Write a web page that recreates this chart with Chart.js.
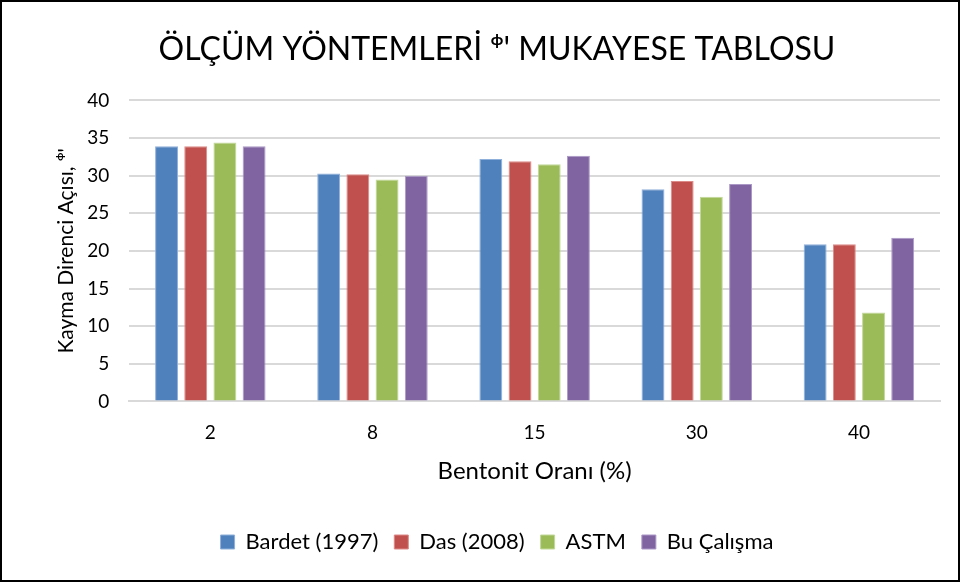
<!DOCTYPE html>
<html>
<head>
<meta charset="utf-8">
<script src="https://cdn.jsdelivr.net/npm/chart.js@4.4.0/dist/chart.umd.min.js"></script>
<style>
  html, body { margin: 0; padding: 0; background: #fff; }
  #wrap { position: relative; width: 960px; height: 582px; box-sizing: border-box; border: 2px solid #000; }
  #chart { display: block; }
</style>
</head>
<body>
<div id="wrap"><canvas id="chart" width="956" height="578"></canvas></div>
<script>
const categories = ["2", "8", "15", "30", "40"];
const seriesNames = ["Bardet (1997)", "Das (2008)", "ASTM", "Bu Çalışma"];
const bardet = [33.9, 30.3, 32.2, 28.2, 20.9];
const das = [33.9, 30.2, 31.9, 29.3, 20.9];
const astm = [34.4, 29.5, 31.5, 27.2, 11.8];
const buCalisma = [33.9, 30.0, 32.65, 28.9, 21.75];
const yTicks = [0, 5, 10, 15, 20, 25, 30, 35, 40];

const fills = ["#4f81bd", "#c0504d", "#9bbb59", "#8064a2"];
const edges = ["#8fb0da", "#dc8a88", "#c2d89a", "#ab98c6"];
const font = "Lato, 'Open Sans', sans-serif";

const datasets = [bardet, das, astm, buCalisma].map((vals, i) => ({
  label: seriesNames[i],
  data: vals,
  backgroundColor: fills[i],
  borderColor: edges[i],
  borderWidth: 1,
  categoryPercentage: 0.72,
  barPercentage: 0.785,
}));

new Chart(document.getElementById("chart").getContext("2d"), {
  type: "bar",
  data: { labels: categories, datasets },
  options: {
    responsive: false,
    animation: false,
    layout: { padding: { left: 52, right: 18, top: 8, bottom: 17 } },
    plugins: {
      title: {
        display: true,
        text: "ÖLÇÜM YÖNTEMLERİ ᶲ' MUKAYESE TABLOSU",
        color: "#000",
        font: { family: font, size: 32, weight: "normal" },
        padding: { top: 20, bottom: 32 },
      },
      legend: {
        position: "bottom",
        labels: {
          color: "#000",
          font: { family: font, size: 22 },
          boxWidth: 14,
          boxHeight: 14,
          padding: 16,
        },
      },
      tooltip: { enabled: false },
    },
    scales: {
      x: {
        grid: { display: false },
        border: { color: "#d9d9d9", width: 2 },
        ticks: { color: "#000", font: { family: font, size: 19 }, padding: 12 },
        title: {
          display: true,
          text: "Bentonit Oranı (%)",
          color: "#000",
          font: { family: font, size: 24 },
          padding: { top: 1, bottom: 29 },
        },
      },
      y: {
        min: 0,
        max: 40,
        afterBuildTicks: (axis) => { axis.ticks = yTicks.map((v) => ({ value: v })); },
        grid: { color: "#d9d9d9", lineWidth: 2, drawTicks: false },
        border: { display: false },
        ticks: { color: "#000", font: { family: font, size: 19 }, padding: 20 },
        title: {
          display: true,
          text: "Kayma Direnci Açısı, ᶲ'",
          color: "#000",
          font: { family: font, size: 21 },
          padding: { top: 0, bottom: -12 },
        },
      },
    },
  },
});
</script>
</body>
</html>
